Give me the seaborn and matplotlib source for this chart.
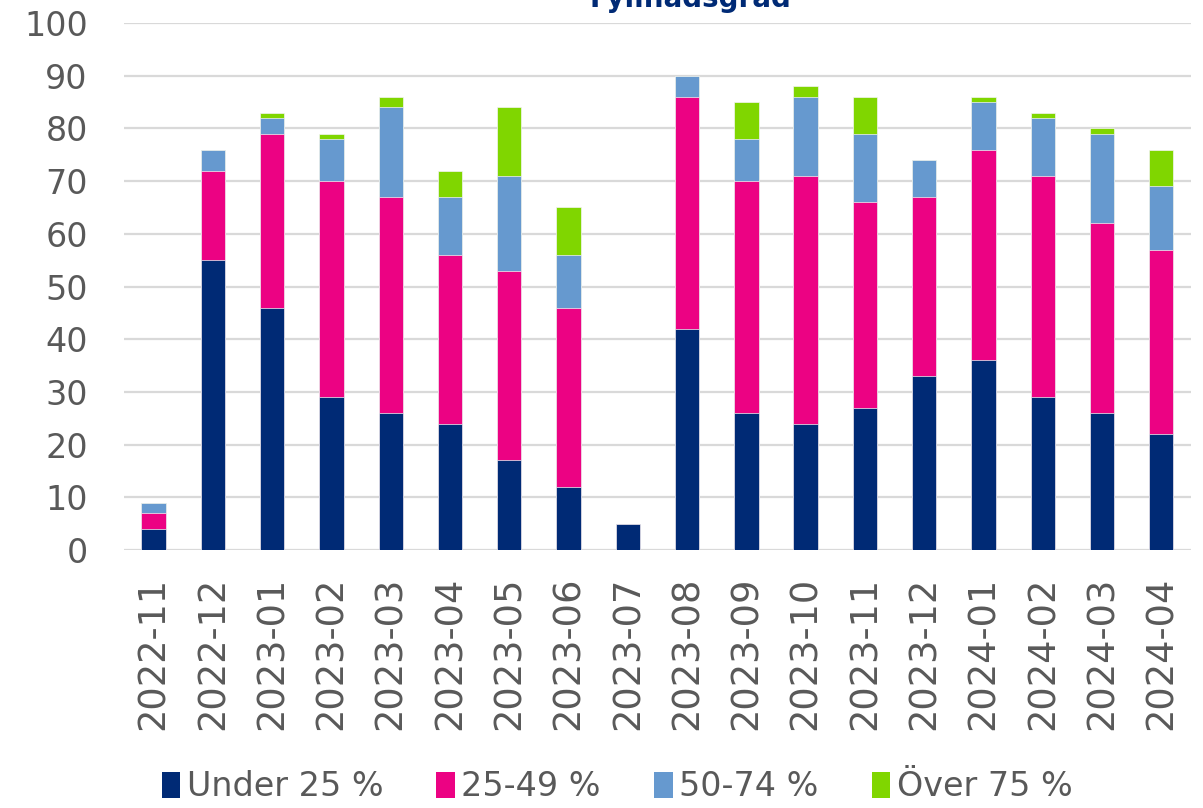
import pandas as pd
import seaborn as sns
import matplotlib.pyplot as plt
from matplotlib.patches import Patch

# Data
months = ["2022-11", "2022-12", "2023-01", "2023-02", "2023-03", "2023-04",
          "2023-05", "2023-06", "2023-07", "2023-08", "2023-09", "2023-10",
          "2023-11", "2023-12", "2024-01", "2024-02", "2024-03", "2024-04"]
under_25 = [4, 55, 46, 29, 26, 24, 17, 12, 5, 42, 26, 24, 27, 33, 36, 29, 26, 22]
p25_49 = [3, 17, 33, 41, 41, 32, 36, 34, 0, 44, 44, 47, 39, 34, 40, 42, 36, 35]
p50_74 = [2, 4, 3, 8, 17, 11, 18, 10, 0, 4, 8, 15, 13, 7, 9, 11, 17, 12]
over_75 = [0, 0, 1, 1, 2, 5, 13, 9, 0, 0, 7, 2, 7, 0, 1, 1, 1, 7]

labels = ["Under 25 %", "25-49 %", "50-74 %", "Över 75 %"]
colors = ["#002A75", "#EC0283", "#6699CF", "#80D600"]

df = pd.DataFrame({
    "Month": months,
    labels[0]: under_25,
    labels[1]: p25_49,
    labels[2]: p50_74,
    labels[3]: over_75,
})

# cumulative totals so the layers can be drawn top-down
cum = df[labels].cumsum(axis=1)
cum["Month"] = df["Month"]

sns.set_style("white")
plt.rcParams["font.family"] = ["DejaVu Sans"]

fig = plt.figure(figsize=(12.03, 8.08), dpi=100)
ax = fig.add_axes([0.103, 0.3193, 0.887, 0.6522])

ax.grid(axis="y", color="#D9D9D9", linewidth=1.6, zorder=0)
ax.set_axisbelow(True)

for lab, col in reversed(list(zip(labels, colors))):
    sns.barplot(data=cum, x="Month", y=lab, color=col, order=months,
                width=0.41, edgecolor="#F4F4F4", linewidth=0.5,
                saturation=1, ax=ax, zorder=2)

ax.set_ylim(0, 100)
ax.set_yticks(range(0, 101, 10))
ax.set_xlim(-0.5, len(months) - 0.5)
ax.set_xlabel("")
ax.set_ylabel("")
ax.tick_params(axis="y", labelsize=24, labelcolor="#595959", length=0, pad=26)
ax.tick_params(axis="x", labelsize=26.5, labelcolor="#595959", length=0,
               rotation=90, pad=19)
for s in ax.spines.values():
    s.set_visible(False)

fig.text(0.574, 0.991, "Fyllnadsgrad", ha="center", va="baseline",
         fontsize=20, fontweight="bold", color="#002A75")

handles = [Patch(facecolor=c, edgecolor="none") for c in colors]
fig.legend(handles, labels, loc="center", bbox_to_anchor=(0.513, 0.026),
           ncol=4, frameon=False, fontsize=24, handlelength=0.55,
           handleheight=0.85, handletextpad=0.2, columnspacing=1.6,
           labelcolor="#595959")

fig.savefig("out.png", dpi=100)
